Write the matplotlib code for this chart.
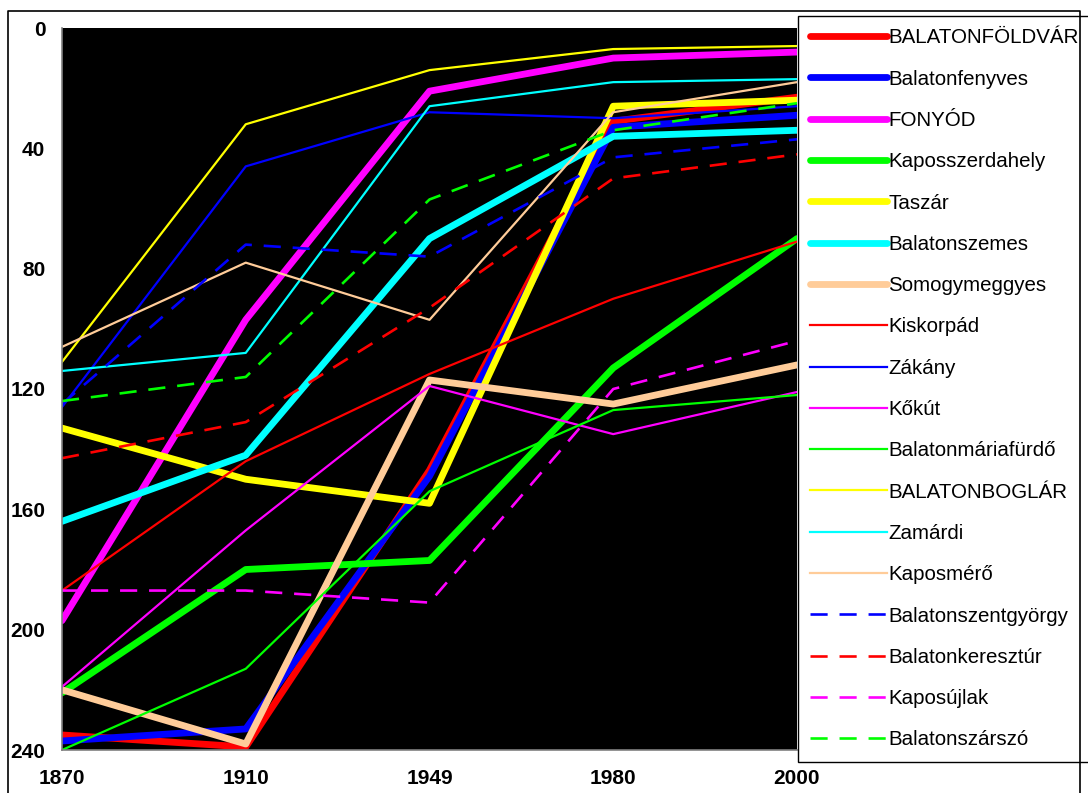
import matplotlib
matplotlib.use("Agg")
import matplotlib.pyplot as plt
from matplotlib.lines import Line2D

# ─────────────────────────────────────
# DATA  (rank of settlements)
# ─────────────────────────────────────
years = ["1870", "1910", "1949", "1980", "2000"]

balatonfoldvar    = [235, 239, 147, 31, 23]
balatonfenyves    = [237, 233, 149, 33, 29]
fonyod            = [197, 97, 21, 10, 8]
kaposszerdahely   = [221, 180, 177, 113, 70]
taszar            = [133, 150, 158, 26, 24]
balatonszemes     = [164, 142, 70, 36, 34]
somogymeggyes     = [220, 238, 117, 125, 112]
kiskorpad         = [187, 144, 115, 90, 71]
zakany            = [126, 46, 28, 30, 26]
kokut             = [219, 167, 119, 135, 121]
balatonmariafurdo = [240, 213, 154, 127, 122]
balatonboglar     = [111, 32, 14, 7, 6]
zamardi           = [114, 108, 26, 18, 17]
kaposmero         = [106, 78, 97, 28, 18]
balatonszentgyorgy = [125, 72, 76, 43, 37]
balatonkeresztur  = [143, 131, 93, 50, 42]
kaposujlak        = [187, 187, 191, 120, 104]
balatonszarszo    = [124, 116, 57, 34, 25]

# name, values, colour, style ("thick", "thin", "dash")
series = [
    ("BALATONFÖLDVÁR", balatonfoldvar, "#FF0000", "thick"),
    ("Balatonfenyves", balatonfenyves, "#0000FF", "thick"),
    ("FONYÓD", fonyod, "#FF00FF", "thick"),
    ("Kaposszerdahely", kaposszerdahely, "#00FF00", "thick"),
    ("Taszár", taszar, "#FFFF00", "thick"),
    ("Balatonszemes", balatonszemes, "#00FFFF", "thick"),
    ("Somogymeggyes", somogymeggyes, "#FFCC99", "thick"),
    ("Kiskorpád", kiskorpad, "#FF0000", "thin"),
    ("Zákány", zakany, "#0000FF", "thin"),
    ("Kőkút", kokut, "#FF00FF", "thin"),
    ("Balatonmáriafürdő", balatonmariafurdo, "#00FF00", "thin"),
    ("BALATONBOGLÁR", balatonboglar, "#FFFF00", "thin"),
    ("Zamárdi", zamardi, "#00FFFF", "thin"),
    ("Kaposmérő", kaposmero, "#FFCC99", "thin"),
    ("Balatonszentgyörgy", balatonszentgyorgy, "#0000FF", "dash"),
    ("Balatonkeresztúr", balatonkeresztur, "#FF0000", "dash"),
    ("Kaposújlak", kaposujlak, "#FF00FF", "dash"),
    ("Balatonszárszó", balatonszarszo, "#00FF00", "dash"),
]

plt.rcParams["font.family"] = ["Liberation Sans", "DejaVu Sans"]

W, H = 1088, 793
fig = plt.figure(figsize=(W / 100, H / 100), dpi=100)
ax = fig.add_axes([62 / W, 43 / H, 735 / W, 722 / H])
ax.set_facecolor("black")

x = list(range(len(years)))
for name, vals, col, style in series:
    if style == "thick":
        ax.plot(x, vals, color=col, lw=4.9, solid_capstyle="round",
                solid_joinstyle="round", label=name)
    elif style == "thin":
        ax.plot(x, vals, color=col, lw=1.6, label=name)
    else:
        ax.plot(x, vals, color=col, lw=1.9, dashes=(6.5, 4.5), label=name)

ax.set_xlim(0, len(years) - 1)
ax.set_ylim(240, 0)
ax.set_xticks(x)
ax.set_xticklabels(years)
ax.set_yticks(range(0, 241, 40))
ax.tick_params(length=0, labelsize=15)
ax.tick_params(axis="y", pad=12)
ax.tick_params(axis="x", pad=14)
for lab in ax.get_xticklabels() + ax.get_yticklabels():
    lab.set_fontweight("bold")

for side in ["top", "right"]:
    ax.spines[side].set_visible(False)
for side in ["left", "bottom"]:
    ax.spines[side].set_color("#808080")
    ax.spines[side].set_linewidth(1.2)

leg = ax.legend(loc="upper left", bbox_to_anchor=(798 / W, 1 - 16 / H),
                bbox_transform=fig.transFigure, borderaxespad=0,
                fontsize=14.8, handlelength=3.75, handletextpad=0.05,
                labelspacing=1.085, borderpad=0.6, fancybox=False,
                framealpha=1, edgecolor="black")
leg.get_frame().set_linewidth(1)

# outer chart frame
fig.add_artist(Line2D([8 / W, 8 / W, 1080 / W, 1080 / W],
                      [0, 1 - 11 / H, 1 - 11 / H, 0],
                      color="black", lw=1.2, transform=fig.transFigure))

plt.savefig("out.png", dpi=100)
